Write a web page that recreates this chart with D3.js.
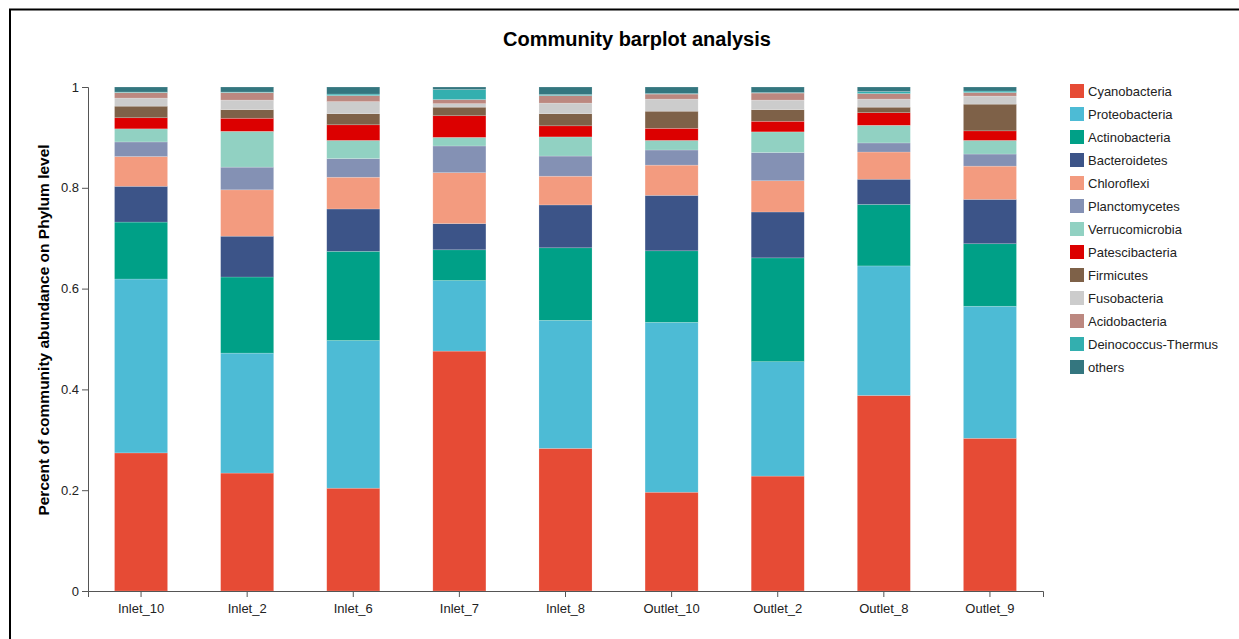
<!DOCTYPE html>
<html><head><meta charset="utf-8">
<script src="https://cdn.jsdelivr.net/npm/d3@7"></script>
<style>body{margin:0;background:#fff;font-family:"Liberation Sans",Arial,sans-serif;}</style>
</head><body>
<svg id="chart" width="1239" height="639"></svg>
<script>
const samples = ["Inlet_10","Inlet_2","Inlet_6","Inlet_7","Inlet_8","Outlet_10","Outlet_2","Outlet_8","Outlet_9"];
const phyla = ["Cyanobacteria","Proteobacteria","Actinobacteria","Bacteroidetes","Chloroflexi","Planctomycetes","Verrucomicrobia","Patescibacteria","Firmicutes","Fusobacteria","Acidobacteria","Deinococcus-Thermus","others"];
const colors = ["#E64B35","#4DBBD5","#00A087","#3C5488","#F39B7F","#8491B4","#91D1C2","#DC0000","#7E6148","#CCCCCC","#BC8880","#33AFAF","#34767F"];

const cyanobacteria      = [0.274,0.234,0.204,0.476,0.283,0.196,0.228,0.388,0.303];
const proteobacteria     = [0.345,0.238,0.293,0.140,0.254,0.337,0.227,0.257,0.262];
const actinobacteria     = [0.113,0.151,0.177,0.061,0.144,0.142,0.206,0.122,0.124];
const bacteroidetes      = [0.071,0.081,0.084,0.052,0.085,0.110,0.091,0.050,0.088];
const chloroflexi        = [0.059,0.092,0.063,0.101,0.057,0.060,0.062,0.054,0.066];
const planctomycetes     = [0.029,0.045,0.037,0.053,0.040,0.030,0.056,0.018,0.024];
const verrucomicrobia    = [0.026,0.071,0.036,0.017,0.038,0.019,0.041,0.035,0.027];
const patescibacteria    = [0.022,0.026,0.031,0.043,0.022,0.024,0.021,0.025,0.019];
const firmicutes         = [0.023,0.017,0.022,0.017,0.024,0.034,0.023,0.011,0.053];
const fusobacteria       = [0.016,0.019,0.024,0.007,0.021,0.024,0.019,0.016,0.016];
const acidobacteria      = [0.011,0.015,0.012,0.008,0.015,0.010,0.014,0.011,0.007];
const deinococcus        = [0.001,0.001,0.003,0.020,0.002,0.001,0.001,0.004,0.003];
const others             = [0.010,0.010,0.014,0.005,0.015,0.013,0.011,0.009,0.008];
const yTicks = [0,0.2,0.4,0.6,0.8,1];

const seriesValues = [cyanobacteria,proteobacteria,actinobacteria,bacteroidetes,chloroflexi,planctomycetes,verrucomicrobia,patescibacteria,firmicutes,fusobacteria,acidobacteria,deinococcus,others];

const table = samples.map((s,i)=>{const o={sample:s};phyla.forEach((p,j)=>o[p]=seriesValues[j][i]);return o;});
const stack = d3.stack().keys(phyla)(table);

const svg = d3.select("#chart");
// frame
svg.append("path").attr("d","M10,639 L10,9.5 L1239,9.5").attr("fill","none").attr("stroke","#000").attr("stroke-width",2);

const x = d3.scaleBand().domain(samples).range([88,1043]).paddingInner(0.5).paddingOuter(0.25);
const y = d3.scaleLinear().domain([0,1]).range([591,87]);
const color = d3.scaleOrdinal().domain(phyla).range(colors);

svg.append("text").attr("x",637).attr("y",46).attr("text-anchor","middle")
  .attr("font-size",20).attr("font-weight","bold").attr("fill","#000").text("Community barplot analysis");

svg.append("g").selectAll("g").data(stack).join("g").attr("fill",d=>color(d.key))
  .selectAll("rect").data(d=>d).join("rect")
  .attr("x",d=>x(d.data.sample)).attr("width",x.bandwidth())
  .attr("y",d=>y(d[1])).attr("height",d=>y(d[0])-y(d[1]))
  .attr("stroke","#fff").attr("stroke-opacity",0.3).attr("stroke-width",0.6);

const xa = svg.append("g").attr("transform","translate(0,591)").call(d3.axisBottom(x).tickSizeOuter(6));
const ya = svg.append("g").attr("transform","translate(88,0)").call(d3.axisLeft(y).tickValues(yTicks).tickFormat(d3.format("~g")));
[xa,ya].forEach(a=>{a.selectAll("path,line").attr("stroke","#555");a.selectAll("text").attr("font-size",13).attr("fill","#222").attr("font-family","'Liberation Sans',Arial,sans-serif");});
xa.selectAll("text").attr("dy","1em");

svg.append("text").attr("transform","translate(49,330) rotate(-90)").attr("text-anchor","middle")
  .attr("font-size",15.5).attr("font-weight","bold").attr("fill","#000").text("Percent of community abundance on Phylum level");

const lg = svg.append("g").selectAll("g").data(phyla).join("g")
  .attr("transform",(d,i)=>`translate(1070,${84+i*23})`);
lg.append("rect").attr("width",14).attr("height",14).attr("fill",d=>color(d));
lg.append("text").attr("x",18).attr("y",11.5).attr("font-size",13).attr("fill","#222").text(d=>d);
</script>
</body></html>
